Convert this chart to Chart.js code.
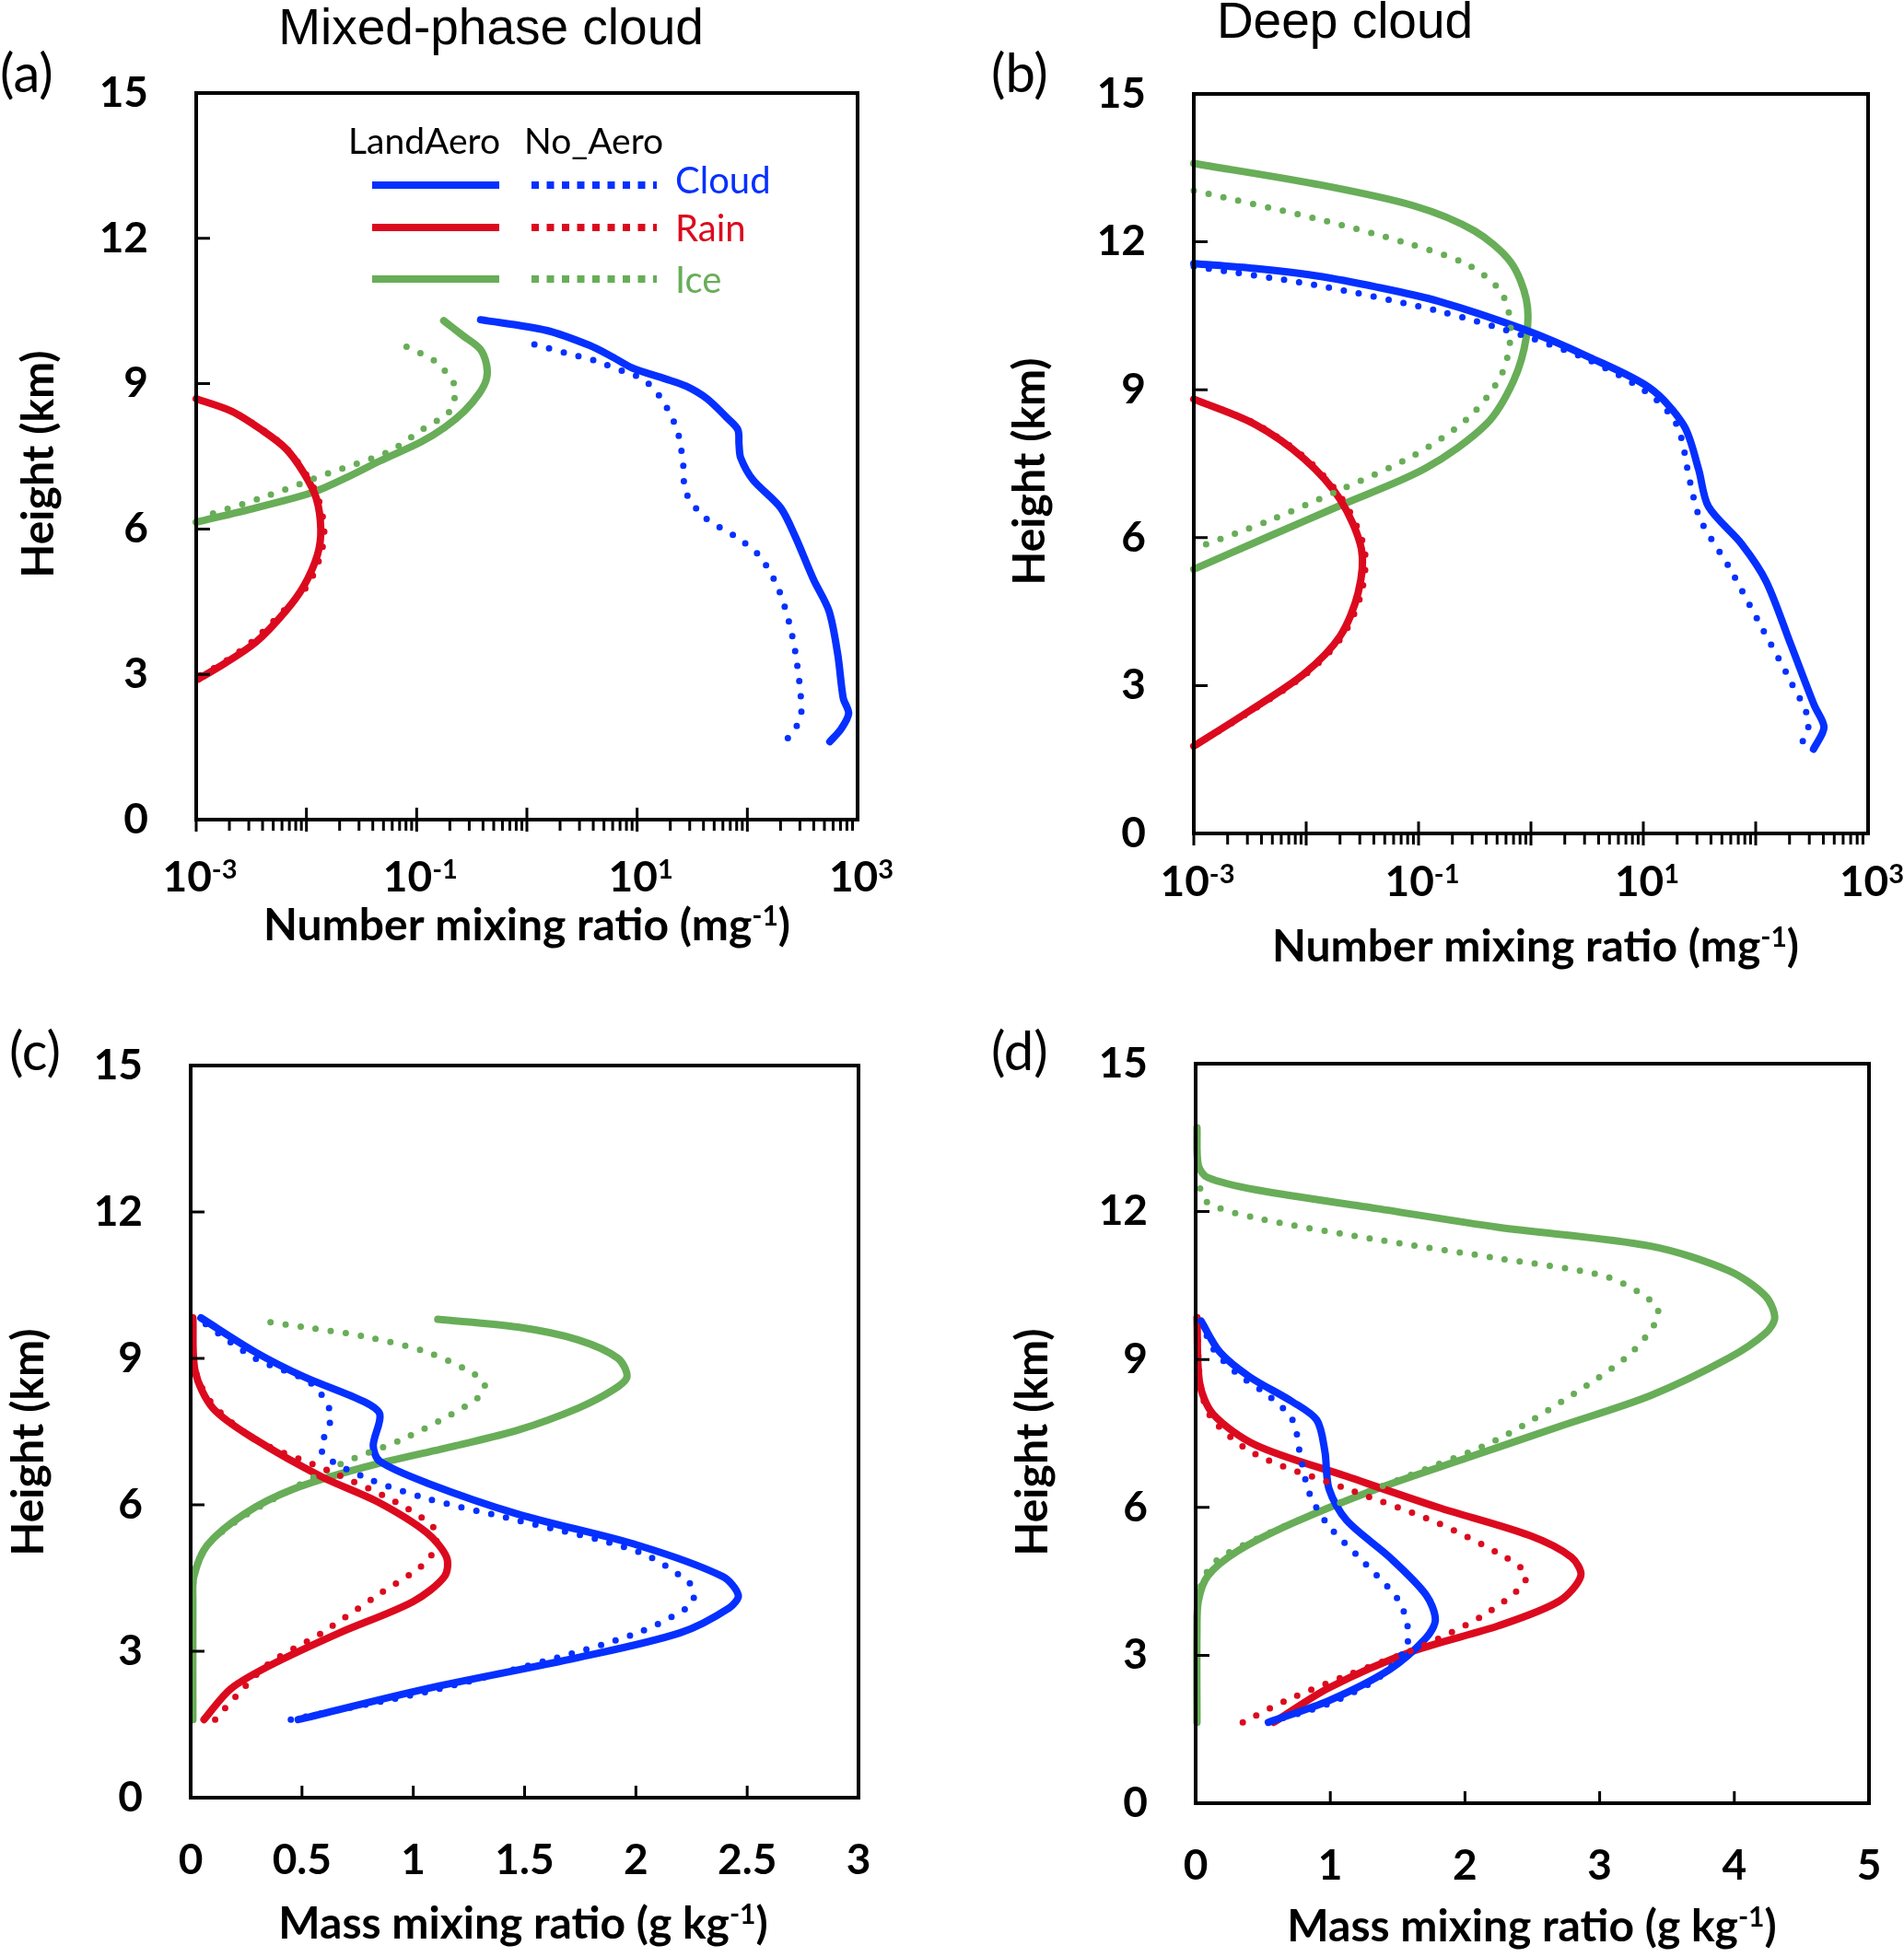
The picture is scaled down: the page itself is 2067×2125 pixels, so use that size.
<!DOCTYPE html>
<html lang="en">
<head>
    <meta charset="UTF-8">
    <script src="https://cdn.jsdelivr.net/npm/chart.js"></script>
    <title>Cloud profiles</title>
    <style>
        html, body { margin: 0; padding: 0; background: #fff; }
        body { position: relative; width: 2067px; height: 2125px; overflow: hidden; }
        canvas { position: absolute; }
    </style>
</head>
<body>
    <canvas id="panelA" width="1033" height="1062" style="left:0;top:0"></canvas>
    <canvas id="panelB" width="1034" height="1062" style="left:1033px;top:0"></canvas>
    <canvas id="panelC" width="1033" height="1063" style="left:0;top:1062px"></canvas>
    <canvas id="panelD" width="1034" height="1063" style="left:1033px;top:1062px"></canvas>

    <script>
        // Axis ticks
        const heightTicks = [0, 3, 6, 9, 12, 15];
        const heightLabels = ['0', '3', '6', '9', '12', '15'];
        const logDecades = [-3, -2, -1, 0, 1, 2];
        const logLabelExps = [-3, -1, 1, 3];
        const massTicksC = [0, 0.5, 1, 1.5, 2, 2.5, 3];
        const massLabelsC = ['0', '0.5', '1', '1.5', '2', '2.5', '3'];
        const massTicksD = [0, 1, 2, 3, 4, 5];
        const massLabelsD = ['0', '1', '2', '3', '4', '5'];

        // (a) Mixed-phase cloud, number mixing ratio (mg-1) vs height (km)
        const aCloudLandH = [10.32, 10.10, 9.79, 9.55, 9.32, 9.10, 8.95, 8.69, 8.30, 8.05, 7.75, 7.47, 7.02, 6.44, 5.86, 4.96, 4.31, 3.41, 2.51, 2.19, 1.87, 1.61];
        const aCloudLandX = [0.38, 1.5, 3.7, 6.0, 9.1, 18, 27.7, 43, 65, 82, 84, 87, 112, 200, 270, 398, 550, 661, 741, 830, 708, 560];
        const aCloudNoH = [9.81, 9.64, 9.47, 9.25, 9.08, 8.69, 8.05, 7.40, 6.76, 6.24, 5.86, 5.47, 4.83, 4.06, 3.28, 2.19, 1.87, 1.61];
        const aCloudNoX = [1.17, 2.2, 4.2, 7.6, 11.5, 16.6, 23, 26, 27.7, 41, 76, 126, 186, 240, 280, 309, 270, 219];
        const aRainLandH = [8.69, 8.43, 8.05, 7.66, 7.15, 6.63, 5.99, 5.47, 4.83, 4.31, 3.67, 3.22, 2.90];
        const aRainLandX = [0.001, 0.0021, 0.0039, 0.0065, 0.0095, 0.0123, 0.0135, 0.0126, 0.0095, 0.0065, 0.0035, 0.0018, 0.00104];
        const aRainNoH = [8.69, 8.43, 8.05, 7.66, 7.15, 6.63, 5.99, 5.47, 4.83, 4.31, 3.67, 3.22, 2.93];
        const aRainNoX = [0.001, 0.0021, 0.004, 0.0066, 0.0098, 0.0128, 0.0145, 0.0135, 0.0102, 0.0062, 0.0032, 0.0017, 0.001];
        const aIceLandH = [10.30, 10.0, 9.72, 9.40, 9.10, 8.80, 8.43, 8.10, 7.80, 7.40, 7.08, 6.76, 6.44, 6.14];
        const aIceLandX = [0.176, 0.26, 0.375, 0.43, 0.43, 0.37, 0.27, 0.18, 0.11, 0.046, 0.024, 0.0115, 0.0035, 0.001];
        const aIceNoH = [9.76, 9.47, 9.01, 8.68, 8.40, 8.05, 7.60, 7.15, 6.69, 6.24];
        const aIceNoX = [0.081, 0.145, 0.217, 0.22, 0.194, 0.112, 0.056, 0.0158, 0.0045, 0.0011];

        // (b) Deep cloud, number mixing ratio
        const bCloudLandH = [11.56, 11.46, 11.31, 11.08, 10.80, 10.23, 9.66, 9.03, 8.27, 7.39, 6.63, 5.87, 5.11, 3.85, 2.59, 2.15, 1.71];
        const bCloudLandX = [0.001, 0.0035, 0.0123, 0.043, 0.148, 0.85, 3.3, 11.5, 23, 31, 38, 75, 124, 204, 333, 405, 327];
        const bCloudNoH = [11.50, 11.12, 10.60, 10.10, 9.60, 8.90, 8.27, 7.14, 6.38, 5.37, 4.23, 3.09, 2.27, 1.71];
        const bCloudNoX = [0.001, 0.0123, 0.148, 0.85, 3.3, 11.5, 20, 26, 32, 59, 110, 204, 296, 245];
        const bRainLandH = [8.81, 8.30, 7.60, 6.78, 5.77, 4.88, 4.00, 3.24, 2.48, 1.77];
        const bRainLandX = [0.001, 0.0035, 0.0096, 0.020, 0.031, 0.029, 0.020, 0.0096, 0.0031, 0.001];
        const bRainNoH = [8.81, 8.30, 7.60, 6.78, 5.77, 4.88, 4.00, 3.24, 2.48, 1.77];
        const bRainNoX = [0.001, 0.0036, 0.0100, 0.021, 0.033, 0.031, 0.021, 0.0100, 0.0032, 0.001];
        const bIceLandH = [13.59, 13.17, 12.73, 12.22, 11.59, 10.83, 10.07, 9.18, 8.30, 7.41, 6.65, 6.02, 5.36];
        const bIceLandX = [0.001, 0.0123, 0.091, 0.315, 0.66, 0.91, 0.91, 0.70, 0.40, 0.116, 0.020, 0.0046, 0.001];
        const bIceNoH = [13.04, 12.47, 11.97, 11.53, 10.96, 10.20, 9.32, 8.43, 7.67, 6.97, 6.34, 5.77];
        const bIceNoX = [0.001, 0.0123, 0.08, 0.277, 0.55, 0.66, 0.55, 0.277, 0.091, 0.020, 0.0046, 0.001];

        // (c) Mixed-phase cloud, mass mixing ratio (g kg-1)
        const cCloudLandH = [1.60, 2.23, 2.87, 3.38, 3.89, 4.15, 4.53, 5.17, 5.81, 6.45, 6.89, 7.21, 7.85, 8.11, 8.62, 9.13, 9.83];
        const cCloudLandX = [0.483, 1.056, 1.74, 2.20, 2.42, 2.46, 2.39, 2.01, 1.47, 1.06, 0.85, 0.82, 0.85, 0.78, 0.51, 0.29, 0.046];
        const cCloudNoH = [1.60, 2.17, 2.81, 3.38, 3.89, 4.09, 4.40, 5.04, 5.68, 6.13, 6.57, 7.09, 7.85, 8.49, 9.00, 9.77];
        const cCloudNoX = [0.45, 1.06, 1.60, 2.01, 2.23, 2.26, 2.24, 2.01, 1.47, 1.06, 0.78, 0.59, 0.63, 0.54, 0.29, 0.046];
        const cRainLandH = [1.60, 2.23, 2.74, 3.38, 4.02, 4.53, 4.92, 5.43, 6.06, 6.57, 7.34, 7.98, 8.74, 9.83];
        const cRainLandX = [0.06, 0.18, 0.37, 0.67, 1.0, 1.14, 1.15, 1.06, 0.84, 0.59, 0.29, 0.10, 0.02, 0.01];
        const cRainNoH = [1.60, 2.11, 2.74, 3.38, 4.15, 4.72, 5.04, 5.49, 6.06, 6.70, 7.34, 8.11, 8.87, 9.83];
        const cRainNoX = [0.11, 0.21, 0.35, 0.59, 0.84, 1.03, 1.09, 1.10, 0.92, 0.62, 0.29, 0.09, 0.014, 0.01];
        const cIceLandH = [1.60, 4.02, 4.53, 5.17, 5.81, 6.32, 6.77, 7.21, 7.53, 7.98, 8.36, 8.62, 9.00, 9.38, 9.64, 9.80];
        const cIceLandX = [0.01, 0.01, 0.014, 0.074, 0.24, 0.46, 0.78, 1.19, 1.47, 1.74, 1.90, 1.96, 1.92, 1.74, 1.47, 1.11];
        const cIceNoH = [1.60, 4.02, 4.66, 5.17, 5.68, 6.19, 6.83, 7.34, 7.85, 8.23, 8.49, 8.74, 9.13, 9.45, 9.64, 9.77];
        const cIceNoX = [0.01, 0.01, 0.02, 0.074, 0.21, 0.40, 0.67, 0.95, 1.17, 1.30, 1.32, 1.25, 1.06, 0.78, 0.51, 0.31];

        // (d) Deep cloud, mass mixing ratio
        const dCloudLandH = [1.64, 2.08, 2.71, 3.35, 3.72, 4.23, 4.99, 5.74, 6.38, 7.13, 7.77, 8.14, 8.65, 9.15, 9.78];
        const dCloudLandX = [0.54, 0.99, 1.44, 1.71, 1.78, 1.71, 1.44, 1.12, 0.99, 0.96, 0.90, 0.72, 0.40, 0.18, 0.04];
        const dCloudNoH = [1.64, 2.02, 2.53, 3.09, 3.47, 4.10, 4.86, 5.62, 6.25, 7.01, 7.77, 8.27, 8.71, 9.22, 9.78];
        const dCloudNoX = [0.54, 0.99, 1.35, 1.55, 1.58, 1.51, 1.26, 0.99, 0.85, 0.78, 0.72, 0.54, 0.31, 0.13, 0.04];
        const dRainLandH = [1.64, 2.34, 3.09, 3.60, 4.10, 4.61, 4.99, 5.43, 6.00, 6.63, 7.26, 7.89, 8.52, 9.85];
        const dRainLandX = [0.58, 0.99, 1.62, 2.25, 2.70, 2.86, 2.79, 2.48, 1.80, 1.12, 0.45, 0.13, 0.03, 0.01];
        const dRainNoH = [1.64, 2.08, 2.59, 3.22, 3.85, 4.42, 4.67, 4.99, 5.68, 6.38, 7.07, 7.77, 8.40, 9.85];
        const dRainNoX = [0.35, 0.67, 1.12, 1.71, 2.16, 2.43, 2.45, 2.30, 1.80, 1.12, 0.45, 0.13, 0.04, 0.01];
        const dIceLandH = [1.64, 3.47, 4.10, 4.61, 5.11, 5.68, 6.38, 7.01, 7.64, 8.27, 9.03, 9.53, 9.85, 10.29, 10.80, 11.30, 11.68, 12.06, 12.44, 12.69, 12.94, 13.70];
        const dIceLandX = [0.01, 0.01, 0.02, 0.09, 0.31, 0.72, 1.35, 2.02, 2.70, 3.38, 3.96, 4.23, 4.30, 4.23, 3.96, 3.38, 2.25, 1.35, 0.45, 0.09, 0.02, 0.01];
        const dIceNoH = [1.64, 3.47, 4.23, 4.86, 5.36, 6.00, 6.63, 7.39, 8.52, 9.15, 9.78, 10.10, 10.67, 11.05, 11.43, 11.87, 12.18, 12.56];
        const dIceNoX = [0.01, 0.01, 0.02, 0.13, 0.45, 0.99, 1.57, 2.25, 2.93, 3.24, 3.42, 3.42, 3.06, 2.25, 1.35, 0.45, 0.09, 0.02];

        const BLUE = '#0530FF';
        const RED = '#DC0A1E';
        const GREEN = '#68AD58';
        const TICK_FONT = { family: 'Lato', weight: 'bold', size: 46 };

        // one profile line (height on y, value on x)
        function profile(label, xs, hs, color, dotted) {
          return {
            label: label,
            data: hs.map((h, i) => ({ x: xs[i], y: h })),
            borderColor: color,
            backgroundColor: color,
            borderWidth: dotted ? 7 : 8,
            borderDash: dotted ? [0, 16.5] : [],
            borderCapStyle: 'round',
            borderJoinStyle: 'round',
            showLine: true,
            pointRadius: 0,
            tension: 0.3,
            fill: false,
            clip: 10,
          };
        }

        // text with a raised part, centred on cx
        function supText(ctx, base, sup, tail, cx, y, size, supSize, rise) {
          ctx.font = `bold ${size}px Lato`;
          const w1 = ctx.measureText(base).width;
          const w3 = ctx.measureText(tail).width;
          ctx.font = `bold ${supSize}px Lato`;
          const w2 = ctx.measureText(sup).width;
          let x = cx - (w1 + w2 + w3) / 2;
          ctx.textAlign = 'left';
          ctx.textBaseline = 'alphabetic';
          ctx.font = `bold ${size}px Lato`;
          ctx.fillText(base, x, y);
          x += w1;
          ctx.font = `bold ${supSize}px Lato`;
          ctx.fillText(sup, x, y - rise);
          x += w2;
          ctx.font = `bold ${size}px Lato`;
          ctx.fillText(tail, x, y);
        }

        // frame, tick marks, log labels, titles and the hand-made legend
        const decor = {
          id: 'decor',
          afterDraw(chart, args, o) {
            const ctx = chart.ctx;
            const a = chart.chartArea;
            const xs = chart.scales.x;
            const ys = chart.scales.y;
            ctx.save();
            ctx.fillStyle = '#000';
            ctx.strokeStyle = '#000';
            ctx.lineWidth = 4;
            ctx.strokeRect(a.left, a.top, a.right - a.left, a.bottom - a.top);

            ctx.lineWidth = 3;
            ctx.beginPath();
            heightTicks.slice(1, -1).forEach(v => {
              const y = ys.getPixelForValue(v);
              ctx.moveTo(a.left, y);
              ctx.lineTo(a.left + 15, y);
            });
            if (o.log) {
              logDecades.forEach(e => {
                for (let m = 1; m <= 9; m++) {
                  const px = xs.getPixelForValue(m * Math.pow(10, e));
                  if (m === 1) {
                    ctx.moveTo(px, a.bottom - 13);
                    ctx.lineTo(px, a.bottom + 13);
                  } else {
                    ctx.moveTo(px, a.bottom);
                    ctx.lineTo(px, a.bottom + 12);
                  }
                }
              });
            } else {
              o.xTicks.slice(1, -1).forEach(v => {
                const px = xs.getPixelForValue(v);
                ctx.moveTo(px, a.bottom);
                ctx.lineTo(px, a.bottom - 13);
              });
            }
            ctx.stroke();

            if (o.log) {
              logLabelExps.forEach(e => {
                const px = xs.getPixelForValue(Math.pow(10, e));
                supText(ctx, '10', String(e), '', px + 4, o.logLabelY, 46, 29, 14);
              });
            }

            // axis titles
            supText(ctx, o.xTitle[0], o.xTitle[1], o.xTitle[2], o.xTitleX, o.xTitleY, 48, 30, 16);
            ctx.save();
            ctx.translate(o.yTitleX, o.yTitleY);
            ctx.rotate(-Math.PI / 2);
            ctx.font = 'bold 48px Lato';
            ctx.textAlign = 'center';
            ctx.textBaseline = 'middle';
            ctx.fillText('Height (km)', 0, 0);
            ctx.restore();

            // panel letter and title
            ctx.font = '58px Lato';
            ctx.textAlign = 'left';
            ctx.textBaseline = 'alphabetic';
            ctx.fillText(o.letter, o.letterX, o.letterY);
            if (o.title) {
              ctx.font = '55px "Liberation Sans"';
              ctx.textAlign = 'center';
              ctx.fillText(o.title, o.titleX, o.titleY);
            }

            if (o.legend) {
              ctx.font = '39px Lato';
              ctx.textAlign = 'right';
              ctx.fillText('LandAero', 543, 167);
              ctx.textAlign = 'left';
              ctx.fillText('No_Aero', 569, 167);
              const rows = [['Cloud', BLUE, 201, 210], ['Rain', RED, 247, 262], ['Ice', GREEN, 303, 318]];
              rows.forEach(r => {
                ctx.strokeStyle = r[1];
                ctx.lineWidth = 8;
                ctx.lineCap = 'butt';
                ctx.setLineDash([]);
                ctx.beginPath();
                ctx.moveTo(404, r[2]);
                ctx.lineTo(542, r[2]);
                ctx.stroke();
                ctx.setLineDash([8, 8.5]);
                ctx.beginPath();
                ctx.moveTo(577, r[2]);
                ctx.lineTo(713, r[2]);
                ctx.stroke();
                ctx.setLineDash([]);
                ctx.fillStyle = r[1];
                ctx.font = '40px Lato';
                ctx.fillText(r[0], 733, r[3]);
              });
            }
            ctx.restore();
          }
        };

        function makePanel(id, box, xAxis, datasets, decorOpts) {
          const canvas = document.getElementById(id);
          const W = canvas.width, H = canvas.height;
          const xScale = {
            type: xAxis.log ? 'logarithmic' : 'linear',
            min: xAxis.min,
            max: xAxis.max,
            position: 'bottom',
            grid: { display: false, drawTicks: false },
            border: { display: false },
            afterFit: s => {
              s.height = H - box.b;
              s.paddingLeft = 0; s.paddingRight = 0; s.paddingTop = 0; s.paddingBottom = 0;
            },
          };
          if (xAxis.log) {
            xScale.ticks = { display: false };
          } else {
            xScale.ticks = {
              stepSize: xAxis.step,
              autoSkip: false,
              maxRotation: 0,
              color: '#000',
              font: TICK_FONT,
              padding: 41,
              callback: (v) => {
                const i = xAxis.ticks.indexOf(Math.round(v * 10) / 10);
                return i >= 0 ? xAxis.labels[i] : '';
              },
            };
          }
          return new Chart(canvas.getContext('2d'), {
            type: 'scatter',
            data: { datasets: datasets },
            options: {
              responsive: false,
              animation: false,
              devicePixelRatio: 1,
              events: [],
              layout: { padding: { left: 0, top: box.t, right: W - box.r, bottom: 0 } },
              scales: {
                x: xScale,
                y: {
                  type: 'linear',
                  min: 0,
                  max: 15,
                  grid: { display: false, drawTicks: false },
                  border: { display: false },
                  ticks: {
                    stepSize: 3,
                    color: '#000',
                    font: TICK_FONT,
                    padding: 52,
                    callback: (v) => {
                      const i = heightTicks.indexOf(v);
                      return i >= 0 ? heightLabels[i] : '';
                    },
                  },
                  afterFit: s => {
                    s.width = box.l;
                    s.paddingLeft = 0; s.paddingRight = 0; s.paddingTop = 0; s.paddingBottom = 0;
                  },
                },
              },
              plugins: {
                legend: { display: false },
                tooltip: { enabled: false },
                decor: decorOpts,
              },
            },
            plugins: [decor],
          });
        }

        makePanel('panelA', { l: 213, t: 101, r: 931, b: 890 },
          { log: true, min: 0.001, max: 1000 },
          [
            profile('Cloud No_Aero', aCloudNoX, aCloudNoH, BLUE, true),
            profile('Rain No_Aero', aRainNoX, aRainNoH, RED, true),
            profile('Ice No_Aero', aIceNoX, aIceNoH, GREEN, true),
            profile('Cloud LandAero', aCloudLandX, aCloudLandH, BLUE, false),
            profile('Rain LandAero', aRainLandX, aRainLandH, RED, false),
            profile('Ice LandAero', aIceLandX, aIceLandH, GREEN, false),
          ],
          { log: true, logLabelY: 968, letter: '(a)', letterX: 0, letterY: 100,
            title: 'Mixed-phase cloud', titleX: 533, titleY: 48,
            xTitle: ['Number mixing ratio (mg', '-1', ')'], xTitleX: 572, xTitleY: 1021,
            yTitleX: 43, yTitleY: 504, legend: true });

        makePanel('panelB', { l: 263, t: 102, r: 995, b: 905 },
          { log: true, min: 0.001, max: 1000 },
          [
            profile('Cloud No_Aero', bCloudNoX, bCloudNoH, BLUE, true),
            profile('Rain No_Aero', bRainNoX, bRainNoH, RED, true),
            profile('Ice No_Aero', bIceNoX, bIceNoH, GREEN, true),
            profile('Cloud LandAero', bCloudLandX, bCloudLandH, BLUE, false),
            profile('Rain LandAero', bRainLandX, bRainLandH, RED, false),
            profile('Ice LandAero', bIceLandX, bIceLandH, GREEN, false),
          ],
          { log: true, logLabelY: 973, letter: '(b)', letterX: 43, letterY: 100,
            title: 'Deep cloud', titleX: 427, titleY: 41,
            xTitle: ['Number mixing ratio (mg', '-1', ')'], xTitleX: 634, xTitleY: 1044,
            yTitleX: 86, yTitleY: 512, legend: false });

        makePanel('panelC', { l: 207, t: 95, r: 932, b: 890 },
          { log: false, min: 0, max: 3, step: 0.5, ticks: massTicksC, labels: massLabelsC },
          [
            profile('Cloud No_Aero', cCloudNoX, cCloudNoH, BLUE, true),
            profile('Rain No_Aero', cRainNoX, cRainNoH, RED, true),
            profile('Ice No_Aero', cIceNoX, cIceNoH, GREEN, true),
            profile('Cloud LandAero', cCloudLandX, cCloudLandH, BLUE, false),
            profile('Rain LandAero', cRainLandX, cRainLandH, RED, false),
            profile('Ice LandAero', cIceLandX, cIceLandH, GREEN, false),
          ],
          { log: false, xTicks: massTicksC, letter: '(c)', letterX: 10, letterY: 100,
            xTitle: ['Mass mixing ratio (g kg', '-1', ')'], xTitleX: 568, xTitleY: 1043,
            yTitleX: 32, yTitleY: 504, legend: false });

        makePanel('panelD', { l: 265, t: 93, r: 996, b: 896 },
          { log: false, min: 0, max: 5, step: 1, ticks: massTicksD, labels: massLabelsD },
          [
            profile('Cloud No_Aero', dCloudNoX, dCloudNoH, BLUE, true),
            profile('Rain No_Aero', dRainNoX, dRainNoH, RED, true),
            profile('Ice No_Aero', dIceNoX, dIceNoH, GREEN, true),
            profile('Cloud LandAero', dCloudLandX, dCloudLandH, BLUE, false),
            profile('Rain LandAero', dRainLandX, dRainLandH, RED, false),
            profile('Ice LandAero', dIceLandX, dIceLandH, GREEN, false),
          ],
          { log: false, xTicks: massTicksD, letter: '(d)', letterX: 43, letterY: 100,
            xTitle: ['Mass mixing ratio (g kg', '-1', ')'], xTitleX: 630, xTitleY: 1046,
            yTitleX: 89, yTitleY: 504, legend: false });
    </script>
</body>
</html>
